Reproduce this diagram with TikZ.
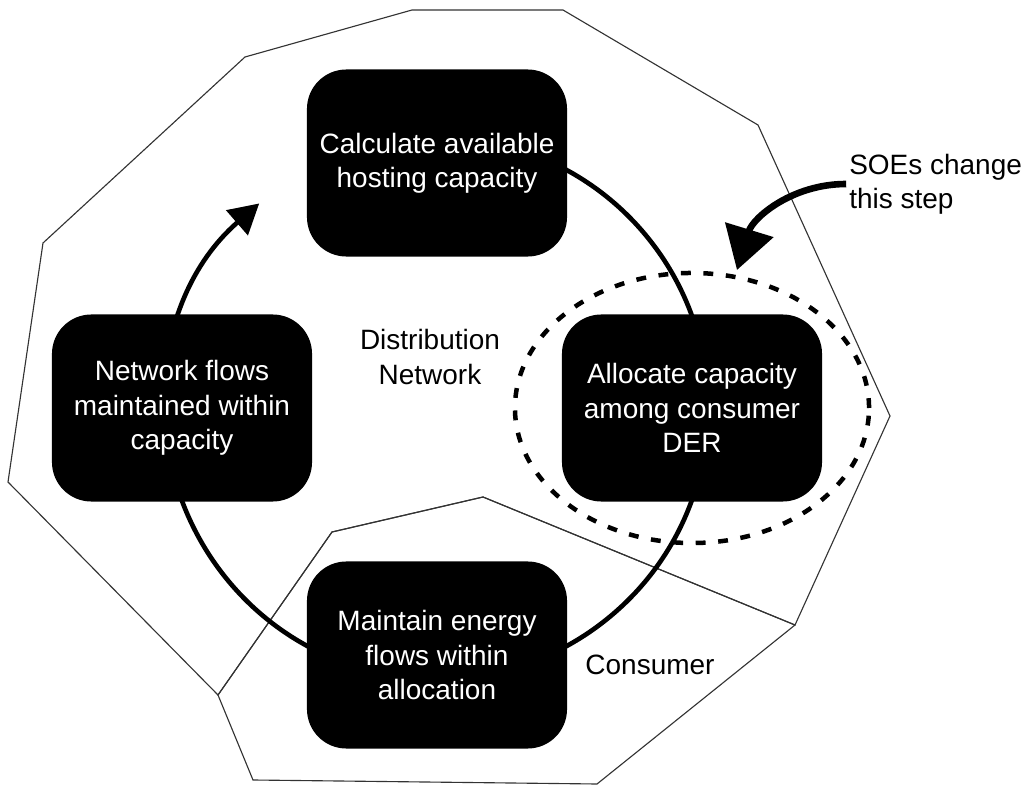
\documentclass[tikz,border=0pt]{standalone}
\usepackage{fontspec}
\setmainfont{Liberation Sans}
\usetikzlibrary{arrows.meta, shapes.geometric}

\begin{document}
\begin{tikzpicture}[
  x=0.025cm, y=0.025cm,
  font=\fontsize{19.9}{24.5}\selectfont,
  stage/.style={fill=black, rounded corners=28pt, minimum width=6.5cm, minimum height=4.675cm, text=white, align=center, inner sep=0pt},
  region/.style={draw=black!80, line width=0.8pt},
  cycle line/.style={line width=3.3pt},
  change ring/.style={draw, ellipse, line width=3.2pt, dash pattern=on 7pt off 9pt, minimum width=8.85cm, minimum height=6.75cm},
  plain label/.style={align=center, inner sep=0pt},
  note arrow/.style={line width=4.7pt, -{Triangle[length=30pt, width=35pt]}}
]
  \useasboundingbox (0,0) rectangle (1021,-787);

  % regions
  \draw[region] (245,-57) -- (412,-10) -- (563,-10) -- (758,-125) -- (890,-416) -- (795,-625) -- (483,-497) -- (332,-532) -- (218,-695) -- (8,-482) -- (43,-243) -- cycle;
  \draw[region] (218,-695) -- (332,-532) -- (483,-497) -- (795,-625) -- (597,-784) -- (253,-780) -- cycle;

  % cycle
  \coordinate (hub) at (437,-408);
  \draw[cycle line, {Triangle[length=21pt, width=23pt]}-] ([shift={(131:271)}]hub) arc[start angle=131, end angle=450, radius=271];

  % steps
  \node[stage] (hosting) at (437,-163) {Calculate available\\hosting capacity};
  \node[stage] (allocate) at (692,-408) {Allocate capacity\\among consumer\\DER};
  \node[stage] (maintain) at (437,-655) {Maintain energy\\flows within\\allocation};
  \node[stage] (flows) at (182,-408) {Network flows\\maintained within\\capacity};

  % labels
  \node[plain label] (distnet) at (430,-357) {Distribution\\Network};
  \node[plain label] (consumer) at (650,-665) {Consumer};

  % SOEs
  \node[change ring] (focus) at (allocate) {};
  \node[plain label, align=left, anchor=west] (note) at (849,-184) {SOEs change\\this step};
  \coordinate (notetip) at (737,-270);
  \draw[note arrow] ([xshift=-2pt]note.west) to[out=180, in=73] (notetip);
\end{tikzpicture}
\end{document}
